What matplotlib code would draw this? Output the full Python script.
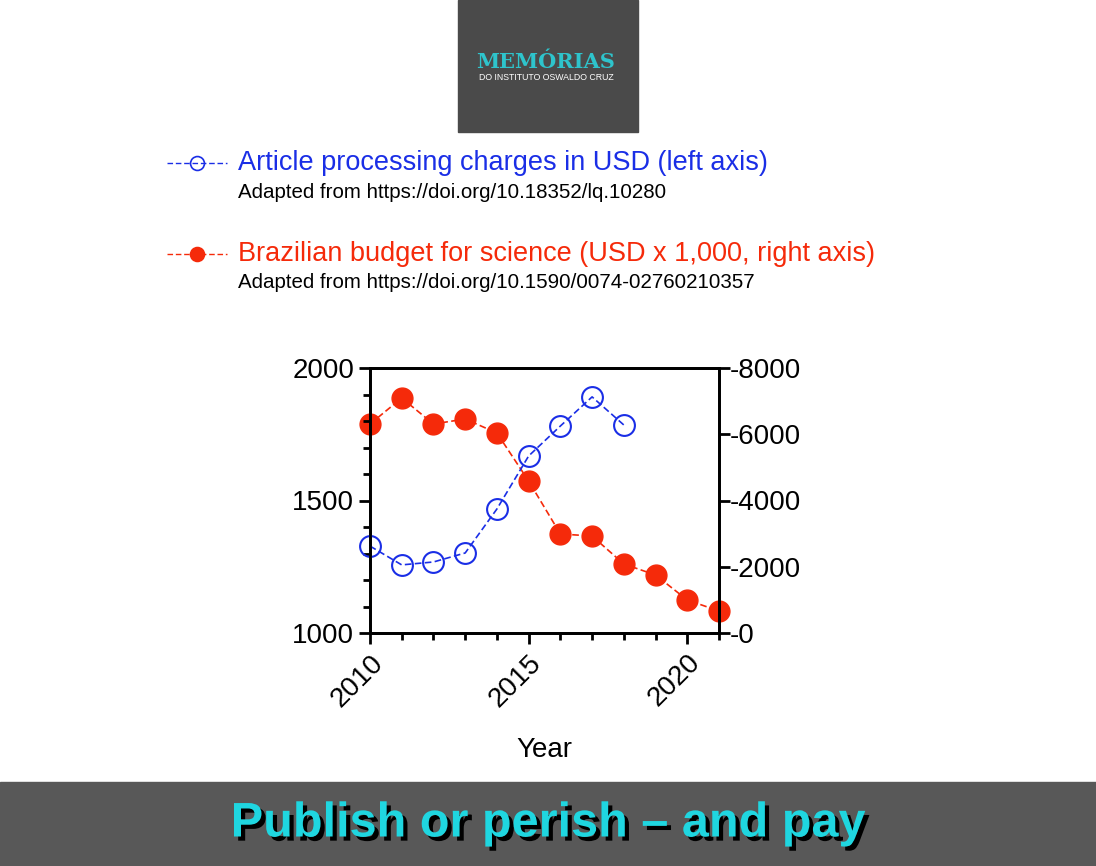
import matplotlib.pyplot as plt
from matplotlib.lines import Line2D
from matplotlib.patches import Rectangle
import matplotlib.patheffects as pe
from matplotlib.ticker import MultipleLocator

years_apc = [2010, 2011, 2012, 2013, 2014, 2015, 2016, 2017, 2018]
apc_usd = [1328, 1257, 1268, 1302, 1468, 1668, 1781, 1891, 1785]
years_budget = list(range(2010, 2022))
budget_kusd = [6309, 7094, 6309, 6460, 6038, 4589, 2989, 2928, 2083, 1751, 996, 664]

blue = '#1a2ee6'
red = '#f52a0a'
plt.rcParams['font.family'] = ['Liberation Sans', 'DejaVu Sans']

fig = plt.figure(figsize=(10.96, 8.66), dpi=100)

# logo box
fig.add_artist(Rectangle((458/1096, 1-132/866), 180/1096, 132/866,
                         transform=fig.transFigure, color='#4a4a4a'))
fig.text(546/1096, 1-62/866, 'MEMÓRIAS', color='#2ec4cc', fontsize=15,
         fontweight='bold', ha='center', va='center', family='DejaVu Serif')
fig.text(546/1096, 1-78/866, 'DO INSTITUTO OSWALDO CRUZ', color='white',
         fontsize=6.3, ha='center', va='center')

# legend entries
def legend_icon(y, color, filled):
    fig.add_artist(Line2D([167/1096, 227/1096], [y, y], transform=fig.transFigure,
                          color=color, lw=1, ls=(0, (4, 2))))
    fig.add_artist(Line2D([197/1096], [y], transform=fig.transFigure, marker='o',
                          ms=10, mfc=color if filled else 'none', mec=color, mew=1.2))

y1 = 1 - 163/866
legend_icon(y1, blue, False)
fig.text(238/1096, y1, 'Article processing charges in USD (left axis)', color=blue,
         fontsize=19.5, va='center')
fig.text(238/1096, 1-192/866, 'Adapted from https://doi.org/10.18352/lq.10280',
         fontsize=14.8, va='center')
y2 = 1 - 254/866
legend_icon(y2, red, True)
fig.text(238/1096, y2, 'Brazilian budget for science (USD x 1,000, right axis)', color=red,
         fontsize=19.5, va='center')
fig.text(238/1096, 1-283/866, 'Adapted from https://doi.org/10.1590/0074-02760210357',
         fontsize=14.8, va='center')

# plot
ax = fig.add_axes([370/1096, 1-633/866, 349/1096, 265/866])
ax2 = ax.twinx()
ax2.plot(years_budget, budget_kusd, color=red, ls=(0, (4, 2)), lw=1.2, marker='o',
         ms=15, mfc=red, mec=red, clip_on=False)
ax.plot(years_apc, apc_usd, color=blue, ls=(0, (4, 2)), lw=1.2, marker='o',
        ms=15, mfc='none', mec=blue, mew=1.5, clip_on=False)
ax.set_zorder(ax2.get_zorder() + 1)
ax.patch.set_visible(False)

ax.set_xlim(2010, 2021)
ax.set_ylim(1000, 2000)
ax2.set_ylim(0, 8000)
ax.set_xticks([2010, 2015, 2020])
ax.xaxis.set_minor_locator(MultipleLocator(1))
ax.yaxis.set_major_locator(MultipleLocator(500))
ax.yaxis.set_minor_locator(MultipleLocator(100))
ax2.yaxis.set_major_locator(MultipleLocator(2000))
for a in (ax, ax2):
    for s in a.spines.values():
        s.set_linewidth(2)
    a.tick_params(which='major', length=8, width=2, labelsize=20)
    a.tick_params(which='minor', length=5, width=2)
ax2.yaxis.set_major_formatter(plt.FuncFormatter(lambda v, p: f'-{int(v)}'))
ax2.tick_params(axis='y', pad=0)
plt.setp(ax.get_xticklabels(), rotation=45, ha='right', rotation_mode='anchor')
ax.tick_params(axis='x', pad=4)
ax.set_xlabel('Year', fontsize=20, labelpad=18)

# bottom band
fig.add_artist(Rectangle((0, 0), 1, 84/866, transform=fig.transFigure, color='#585858'))
fig.text(0.5, 42/866, 'Publish or perish – and pay', color='#1fd6e0', fontsize=35,
         fontweight='bold', ha='center', va='center', family='Liberation Sans',
         path_effects=[pe.withSimplePatchShadow(offset=(3, -3), shadow_rgbFace='black', alpha=1)])

fig.savefig('out.png', dpi=100)
